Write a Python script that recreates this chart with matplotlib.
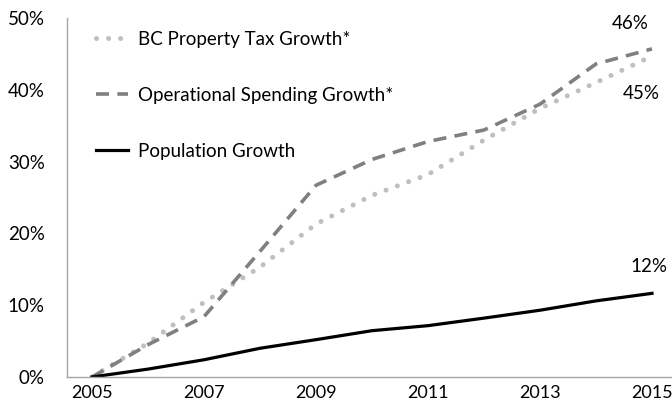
import matplotlib.pyplot as plt
from matplotlib.ticker import FuncFormatter

plt.rcParams['font.family'] = ['Lato', 'DejaVu Sans']

years = [2005, 2006, 2007, 2008, 2009, 2010, 2011, 2012, 2013, 2014, 2015]
property_tax = [0, 4.7, 10.4, 15.3, 21.3, 25.3, 28.2, 33.0, 37.4, 41.0, 44.7]
op_spending = [0, 4.5, 8.4, 17.5, 26.7, 30.3, 32.8, 34.4, 38.0, 43.6, 45.7]
population = [0, 1.1, 2.4, 4.0, 5.2, 6.45, 7.15, 8.2, 9.3, 10.6, 11.65]

fs = 13.5

fig = plt.figure(figsize=(6.72, 4.15), dpi=100)
ax = fig.add_axes([67 / 672, 38 / 415, 605 / 672, 359 / 415])

ax.plot(years, property_tax, color='#BFBFBF', lw=3.6, linestyle=(0, (0.01, 2.4)),
        dash_capstyle='round', label='BC Property Tax Growth*')
ax.plot(years, op_spending, color='#808080', lw=2.6, linestyle=(0, (3.6, 2.3)),
        label='Operational Spending Growth*')
ax.plot(years, population, color='black', lw=2.3, label='Population Growth')

ax.set_xlim(2004.554, 2015.357)
ax.set_ylim(0, 50)
ax.set_xticks(years[::2])
ax.set_yticks(range(0, 51, 10))
ax.yaxis.set_major_formatter(FuncFormatter(lambda v, p: f'{v:.0f}%'))
ax.tick_params(length=0, labelsize=fs, colors='black')
ax.tick_params(axis='y', pad=16)
ax.tick_params(axis='x', pad=6, labelsize=13)

for s in ['top', 'right']:
    ax.spines[s].set_visible(False)
for s in ['left', 'bottom']:
    ax.spines[s].set_color('#A6A6A6')
    ax.spines[s].set_linewidth(1)

ax.annotate(f'{op_spending[-1]:.0f}%', (years[-1], op_spending[-1]), xytext=(-16, 18),
            textcoords='offset points', ha='center', va='center', fontsize=fs)
ax.annotate(f'{property_tax[-1]:.0f}%', (years[-1], property_tax[-1]), xytext=(-8, -27),
            textcoords='offset points', ha='center', va='center', fontsize=fs)
ax.annotate(f'{population[-1]:.0f}%', (years[-1], population[-1]), xytext=(-2, 19),
            textcoords='offset points', ha='center', va='center', fontsize=fs)

ax.legend(loc='upper left', bbox_to_anchor=(0.048, 0.964), frameon=False, fontsize=fs,
          borderpad=0, borderaxespad=0, labelspacing=2.08, handlelength=1.7,
          handletextpad=0.53)

fig.savefig('out.png', dpi=100)
